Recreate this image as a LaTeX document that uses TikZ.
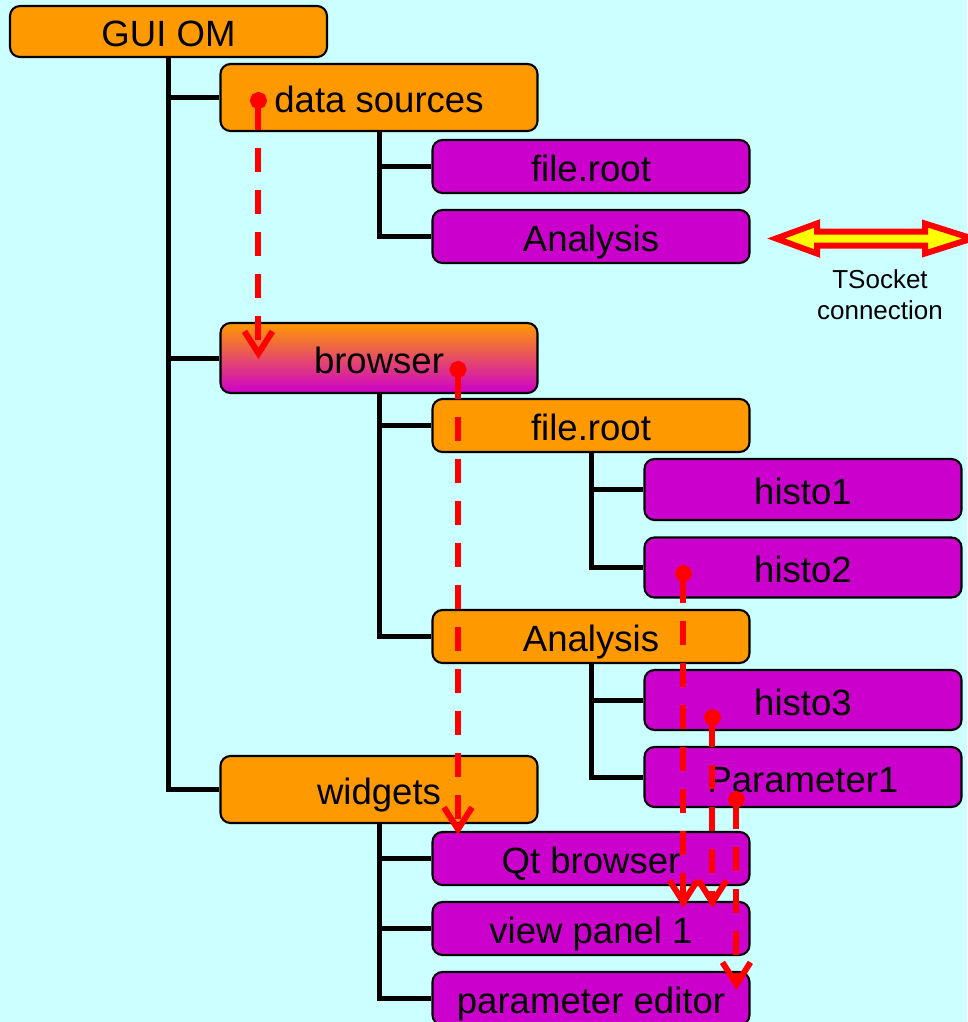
\documentclass[tikz,border=0pt]{standalone}
\usepackage{fontspec}
\setmainfont{Liberation Sans}
\usepackage{tikz}
\usetikzlibrary{positioning,arrows.meta,calc}
\definecolor{omorange}{HTML}{FF9900}
\definecolor{ommagenta}{HTML}{CC00CC}
\definecolor{omsky}{HTML}{CCFFFF}
\definecolor{omred}{HTML}{FF0000}
\definecolor{omyellow}{HTML}{FFFF00}

\begin{document}
\begin{tikzpicture}[
    every node/.style={font=\fontsize{10.4}{12}\selectfont},
    box/.style={draw=black, line width=0.6pt, rounded corners=0.1cm, inner sep=0pt,
      minimum width=3.17cm, text height=0.30cm, text depth=0cm},
    topbox/.style={box, fill=omorange},
    midbox/.style={box, fill=#1, minimum height=0.53cm},
    leafbox/.style={box, fill=ommagenta, minimum height=0.60cm},
    tree/.style={line width=0.05cm},
    flow/.style={draw=omred, line width=0.06cm, dash pattern=on 0.24cm off 0.18cm,
      {Circle[length=0.17cm]}-{Straight Barb[length=0.22cm,width=0.28cm]}}]
  \fill[omsky] (0,0) rectangle (9.67,-10.22);
  \useasboundingbox (0,0) rectangle (9.67,-10.22);
  % tree of objects
  \node[topbox, minimum height=0.51cm] (guiom) at (1.685,-0.315) {GUI OM};
  \node[topbox, minimum height=0.67cm] (dsrc) at (3.79,-0.975) {data sources};
  \node[midbox=ommagenta] (froota) at (5.91,-1.665) {file.root};
  \node[midbox=ommagenta] (anaa) at (5.91,-2.365) {Analysis};
  \node[box, minimum height=0.70cm, top color=omorange, bottom color=ommagenta] (brws) at (3.79,-3.58) {browser};
  \node[midbox=omorange] (frootb) at (5.91,-4.255) {file.root};
  \node[leafbox, minimum height=0.61cm] (histoa) at (8.03,-4.895) {histo1};
  \node[leafbox] (histob) at (8.03,-5.675) {histo2};
  \node[midbox=omorange] (anab) at (5.91,-6.365) {Analysis};
  \node[leafbox] (histoc) at (8.03,-7.00) {histo3};
  \node[leafbox] (param) at (8.03,-7.77) {Parameter1};
  \node[topbox, minimum height=0.67cm] (widg) at (3.79,-7.895) {widgets};
  \node[midbox=ommagenta] (qtb) at (5.91,-8.585) {Qt browser};
  \node[midbox=ommagenta] (vpan) at (5.91,-9.285) {view panel 1};
  \node[midbox=ommagenta] (pedit) at (5.91,-9.985) {parameter editor};

  \draw[tree] (guiom.south) |- (widg.west);
  \draw[tree] (guiom.south |- dsrc.west) -- (dsrc.west);
  \draw[tree] (guiom.south |- brws.west) -- (brws.west);
  \draw[tree] (dsrc.south) |- (anaa.west);
  \draw[tree] (dsrc.south |- froota.west) -- (froota.west);
  \draw[tree] (brws.south) |- (anab.west);
  \draw[tree] (brws.south |- frootb.west) -- (frootb.west);
  \draw[tree] (frootb.south) |- (histob.west);
  \draw[tree] (frootb.south |- histoa.west) -- (histoa.west);
  \draw[tree] (anab.south) |- (param.west);
  \draw[tree] (anab.south |- histoc.west) -- (histoc.west);
  \draw[tree] (widg.south) |- (pedit.west);
  \draw[tree] (widg.south |- qtb.west) -- (qtb.west);
  \draw[tree] (widg.south |- vpan.west) -- (vpan.west);

  % data flow
  \coordinate (fa) at ([shift={(0.39,0.055)}]dsrc.west);
  \coordinate (fb) at ([shift={(0.79,-0.39)}]brws.north);
  \coordinate (fc) at ([shift={(0.40,-0.285)}]histob.north west);
  \coordinate (fd) at ([shift={(0.69,-0.40)}]histoc.north west);
  \coordinate (fe) at ([shift={(0.93,-0.45)}]param.north west);
  \draw[flow] (fa) -- ([yshift=-0.37cm]fa |- brws.north);
  \draw[flow] (fb) -- ([yshift=-0.04cm]fb |- qtb.north);
  \draw[flow] (fc) -- ([yshift=-0.07cm]fc |- vpan.north);
  \draw[flow] (fd) -- ([yshift=-0.07cm]fd |- vpan.north);
  \draw[flow] (fe) -- ([yshift=-0.19cm]fe |- pedit.north);

  % socket
  \draw[draw=omred, fill=omyellow, line width=0.06cm]
    (7.76,-2.385) -- (8.17,-2.235) -- (8.17,-2.315) -- (9.25,-2.315) -- (9.25,-2.235)
    -- (9.72,-2.385) -- (9.25,-2.535) -- (9.25,-2.455) -- (8.17,-2.455) -- (8.17,-2.535) -- cycle;
  \node[font=\fontsize{7.4}{8.8}\selectfont, align=center] (tsock) at (8.80,-2.95) {TSocket\\connection};
\end{tikzpicture}
\end{document}
